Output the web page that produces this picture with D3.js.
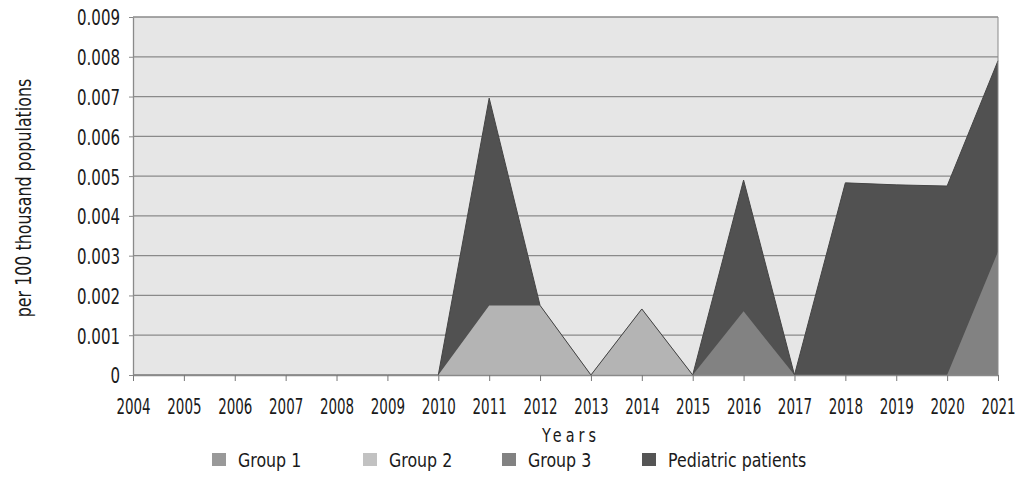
<!DOCTYPE html>
<html>
<head>
<meta charset="utf-8">
<script src="https://cdn.jsdelivr.net/npm/d3@7"></script>
<style>
  body { margin: 0; background: #fff; }
  text { font-family: "DejaVu Sans Condensed", "DejaVu Sans", sans-serif; fill: #1a1a1a; }
</style>
</head>
<body>
<svg id="chart" width="1024" height="480"></svg>
<script>
const years = [2004,2005,2006,2007,2008,2009,2010,2011,2012,2013,2014,2015,2016,2017,2018,2019,2020,2021];
const group1 = [0,0,0,0,0,0,0,0,0,0,0,0,0,0,0,0,0,0];
const group2 = [0,0,0,0,0,0,0,0.00175,0.00175,0,0.00166,0,0,0,0,0,0,0];
const group3 = [0,0,0,0,0,0,0,0,0,0,0,0,0.0016,0,0,0,0,0.0031];
const pediatric = [0,0,0,0,0,0,0,0.00696,0.00175,0,0.00166,0,0.0049,0,0.00483,0.00478,0.00475,0.0079];
const yTicks = [0,0.001,0.002,0.003,0.004,0.005,0.006,0.007,0.008,0.009];
const legendNames = ["Group 1", "Group 2", "Group 3", "Pediatric patients"];

const margin = {top:17, right:26, bottom:105, left:133};
const width = 1024, height = 480;
const svg = d3.select("#chart");

const x = d3.scaleLinear().domain([2004,2021]).range([margin.left, width - margin.right]);
const y = d3.scaleLinear().domain([0,0.009]).range([height - margin.bottom, margin.top]);

// plot background
svg.append("rect")
  .attr("x", x(2004)).attr("y", y(0.009))
  .attr("width", x(2021) - x(2004)).attr("height", y(0) - y(0.009))
  .attr("fill", "#e6e6e6");

// gridlines
svg.append("g")
  .selectAll("line")
  .data(yTicks.slice(1))
  .join("line")
    .attr("x1", x(2004)).attr("x2", x(2021))
    .attr("y1", d => y(d)).attr("y2", d => y(d))
    .attr("stroke", "#8a8a8a").attr("stroke-width", 1.3);

const area = vals => d3.area()
  .x((d,i) => x(years[i]))
  .y0(y(0))
  .y1(d => y(d))(vals);

svg.append("path").attr("d", area(pediatric)).attr("fill", "#515151");
svg.append("path").attr("d", area(group1)).attr("fill", "#999999");
svg.append("path").attr("d", area(group2)).attr("fill", "#b4b4b4");
svg.append("path").attr("d", area(group3)).attr("fill", "#828282");

// pediatric outline on top
svg.append("path")
  .attr("d", d3.line().x((d,i) => x(years[i])).y(d => y(d))(pediatric))
  .attr("fill", "none").attr("stroke", "#444").attr("stroke-width", 1);

// x axis
const xAxis = svg.append("g")
  .attr("transform", `translate(0,${y(0)})`)
  .call(d3.axisBottom(x).tickValues(years).tickFormat(d3.format("d")).tickSize(6).tickSizeOuter(0));
xAxis.select(".domain").attr("stroke", "#8a8a8a").attr("stroke-width", 1.5);
xAxis.selectAll(".tick line").attr("stroke", "#777");
xAxis.selectAll(".tick text")
  .attr("font-size", 22).attr("fill", "#1a1a1a")
  .attr("dy", null).attr("y", 39)
  .attr("transform", "scale(0.68,1)");

// y axis
const yAxis = svg.append("g")
  .attr("transform", `translate(${x(2004)},0)`)
  .call(d3.axisLeft(y).tickValues(yTicks).tickFormat(d => d === 0 ? "0" : d3.format(".3f")(d)).tickSize(4).tickSizeOuter(0));
yAxis.select(".domain").attr("stroke", "#8a8a8a").attr("stroke-width", 1.3);
yAxis.selectAll(".tick line").attr("stroke", "#8a8a8a");
yAxis.selectAll(".tick text")
  .attr("font-size", 22).attr("fill", "#1a1a1a")
  .attr("x", -13 / 0.76).attr("dy", "0.36em")
  .attr("transform", "scale(0.76,1)");

// right border
svg.append("line")
  .attr("x1", x(2021)).attr("x2", x(2021))
  .attr("y1", y(0.009)).attr("y2", y(0))
  .attr("stroke", "#8a8a8a").attr("stroke-width", 1);

// axis titles
svg.append("text")
  .attr("transform", `translate(31,${(y(0) + y(0.009)) / 2 + 2}) rotate(-90) scale(0.84,1)`)
  .attr("text-anchor", "middle")
  .attr("font-size", 21)
  .text("per 100 thousand populations");

svg.append("text")
  .attr("transform", "translate(571,442) scale(0.8,1)")
  .attr("text-anchor", "middle")
  .attr("font-size", 20)
  .attr("letter-spacing", 5)
  .text("Years");

// legend
const legendColors = ["#999999", "#c2c2c2", "#828282", "#555555"];
const legendX = [212, 363, 502, 642];
const legend = svg.append("g")
  .selectAll("g")
  .data(legendNames)
  .join("g")
    .attr("transform", (d,i) => `translate(${legendX[i]},460)`);
legend.append("rect")
  .attr("x", 0).attr("y", -7).attr("width", 14).attr("height", 13)
  .attr("fill", (d,i) => legendColors[i]);
legend.append("text")
  .attr("transform", "translate(26,7) scale(0.88,1)")
  .attr("font-size", 20)
  .text(d => d);
</script>
</body>
</html>
